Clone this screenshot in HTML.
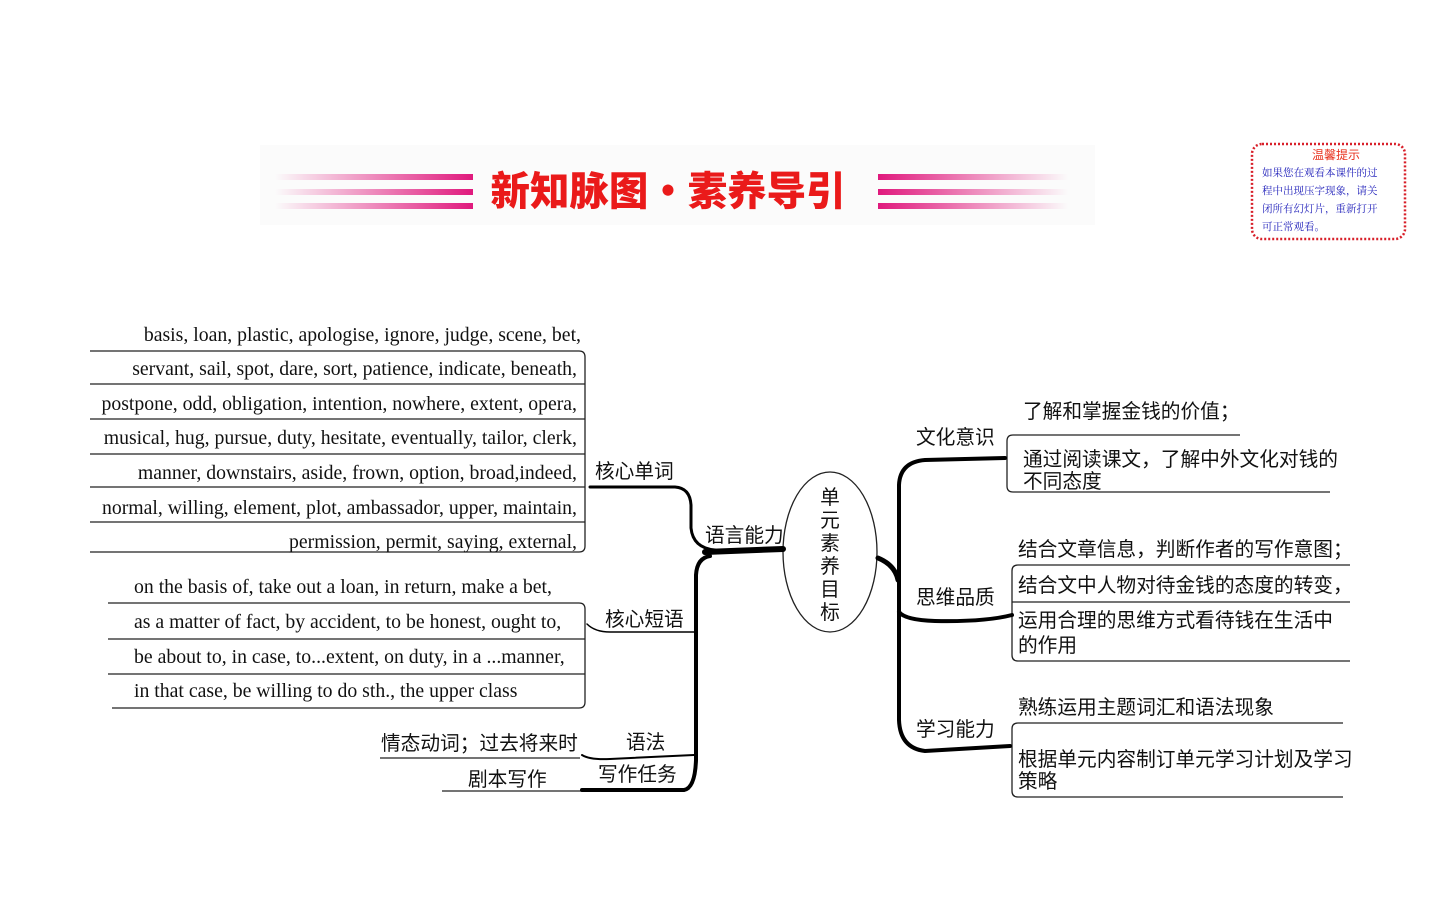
<!DOCTYPE html>
<html><head><meta charset="utf-8"><style>
body{margin:0;background:#fff;}
svg{display:block;}
.s{font-family:"Liberation Serif",serif;font-size:19.75px;fill:#111;}
.c{font-family:"Liberation Sans","Noto Sans CJK SC",sans-serif;font-size:19.7px;fill:#111;}
</style></head><body>
<svg width="1440" height="899" viewBox="0 0 1440 899" xmlns="http://www.w3.org/2000/svg">
<defs>
<linearGradient id="gl" x1="0" x2="1"><stop offset="0" stop-color="#e0197d" stop-opacity="0"/><stop offset="1" stop-color="#e0197d"/></linearGradient>
<linearGradient id="gr" x1="0" x2="1"><stop offset="0" stop-color="#e0197d"/><stop offset="1" stop-color="#e0197d" stop-opacity="0"/></linearGradient>
</defs>
<rect x="260" y="145" width="835" height="80" fill="#fbfbfb"/>
<g fill="url(#gl)"><rect x="275" y="174" width="198" height="6"/><rect x="275" y="189" width="198" height="6"/><rect x="275" y="203" width="198" height="6"/></g>
<g fill="url(#gr)"><rect x="878" y="174" width="190" height="6"/><rect x="878" y="189" width="190" height="6"/><rect x="878" y="203" width="190" height="6"/></g>
<text x="668" y="205" text-anchor="middle" font-family="'Noto Sans CJK SC',sans-serif" font-weight="900" font-size="40" fill="#ea1a1a" textLength="355" lengthAdjust="spacingAndGlyphs">新知脉图•素养导引</text>

<rect x="1252" y="144" width="153" height="95" rx="10" fill="#fff" stroke="#d8202a" stroke-width="2.5" stroke-dasharray="2,2"/>
<text x="1336" y="159" text-anchor="middle" font-family="'Noto Sans CJK SC',sans-serif" font-size="12" fill="#e8321e">温馨提示</text>
<g font-family="'Noto Serif CJK SC',serif" font-size="10.5" fill="#1a1ab8">
<text x="1262" y="176">如果您在观看本课件的过</text>
<text x="1262" y="194">程中出现压字现象，请关</text>
<text x="1262" y="212">闭所有幻灯片，重新打开</text>
<text x="1262" y="230">可正常观看。</text></g>

<g fill="none" stroke="#222" stroke-width="1.3">
<path d="M90 351 H579 Q585 351 585 357 V546 Q585 552 579 552 H90"/>
<path d="M90 384H585M90 419H585M90 454H585M90 487H585M90 522H585"/>
<path d="M108 603 H579 Q585 603 585 609 V702 Q585 708 579 708 H112"/>
<path d="M108 639H585M108 674H585"/>
<path d="M380 758H580M442 791H582"/>
<path d="M1240 435 H1013 Q1007 435 1007 441 V486 Q1007 492 1013 492 H1330"/>
<path d="M1350 565 H1018 Q1012 565 1012 571 V655 Q1012 661 1018 661 H1350 M1012 602 H1350"/>
<path d="M1343 723 H1018 Q1012 723 1012 729 V791 Q1012 797 1018 797 H1343"/>
<ellipse cx="830" cy="552" rx="47" ry="80"/>
</g>
<g class="s" text-anchor="end">
<text x="581" y="341">basis, loan, plastic, apologise, ignore, judge, scene, bet,</text>
<text x="577" y="375">servant, sail, spot, dare, sort, patience, indicate, beneath,</text>
<text x="577" y="410">postpone, odd, obligation, intention, nowhere, extent, opera,</text>
<text x="577" y="444">musical, hug, pursue, duty, hesitate, eventually, tailor, clerk,</text>
<text x="577" y="479">manner, downstairs, aside, frown, option, broad,indeed,</text>
<text x="577" y="514">normal, willing, element, plot, ambassador, upper, maintain,</text>
<text x="577" y="548">permission, permit, saying, external,</text>
</g>
<g class="s">
<text x="134" y="593">on the basis of, take out a loan, in return, make a bet,</text>
<text x="134" y="628">as a matter of fact, by accident, to be honest, ought to,</text>
<text x="134" y="663">be about to, in case, to...extent, on duty, in a ...manner,</text>
<text x="134" y="697">in that case, be willing to do sth., the upper class</text>
</g>
<g fill="none" stroke="#000" stroke-linecap="round">
<path d="M590 487 H675 Q690 488 691 505 V528 Q693 548 715 550" stroke-width="3"/>
<path d="M705 552 L783 549" stroke-width="6"/>
<path d="M710 556 Q697 558 696 575 V760 Q695 788 684 790 H582" stroke-width="4"/>
<path d="M587 624 Q595 632 610 632 H696" stroke-width="1.5"/>
<path d="M582 755 Q590 760 610 759 L694 755" stroke-width="2"/>
<path d="M878 558 Q895 565 898 580" stroke-width="5"/>
<path d="M1005 458 L925 460 Q900 462 899 485 V720 Q900 748 925 751 L1010 746" stroke-width="4"/>
<path d="M899 612 Q905 620 935 621 Q985 622 1012 615" stroke-width="4"/>
</g>
<g class="c">
<text x="595" y="478">核心单词</text>
<text x="705" y="542">语言能力</text>
<text x="605" y="626">核心短语</text>
<text x="626" y="749">语法</text>
<text x="598" y="781">写作任务</text>
<text x="381" y="750">情态动词；过去将来时</text>
<text x="468" y="786">剧本写作</text>
<text x="916" y="444">文化意识</text>
<text x="916" y="604">思维品质</text>
<text x="916" y="736">学习能力</text>
<text x="1023" y="418">了解和掌握金钱的价值；</text>
<text x="1023" y="466">通过阅读课文，了解中外文化对钱的</text>
<text x="1023" y="488">不同态度</text>
<text x="1018" y="556">结合文章信息，判断作者的写作意图；</text>
<text x="1018" y="592">结合文中人物对待金钱的态度的转变，</text>
<text x="1018" y="627">运用合理的思维方式看待钱在生活中</text>
<text x="1018" y="652">的作用</text>
<text x="1018" y="714">熟练运用主题词汇和语法现象</text>
<text x="1018" y="766">根据单元内容制订单元学习计划及学习</text>
<text x="1018" y="788">策略</text>
</g>
<g class="c" text-anchor="middle" font-size="21">
<text x="830" y="504">单</text><text x="830" y="527">元</text><text x="830" y="550">素</text><text x="830" y="573">养</text><text x="830" y="596">目</text><text x="830" y="619">标</text>
</g>
</svg>
</body></html>
